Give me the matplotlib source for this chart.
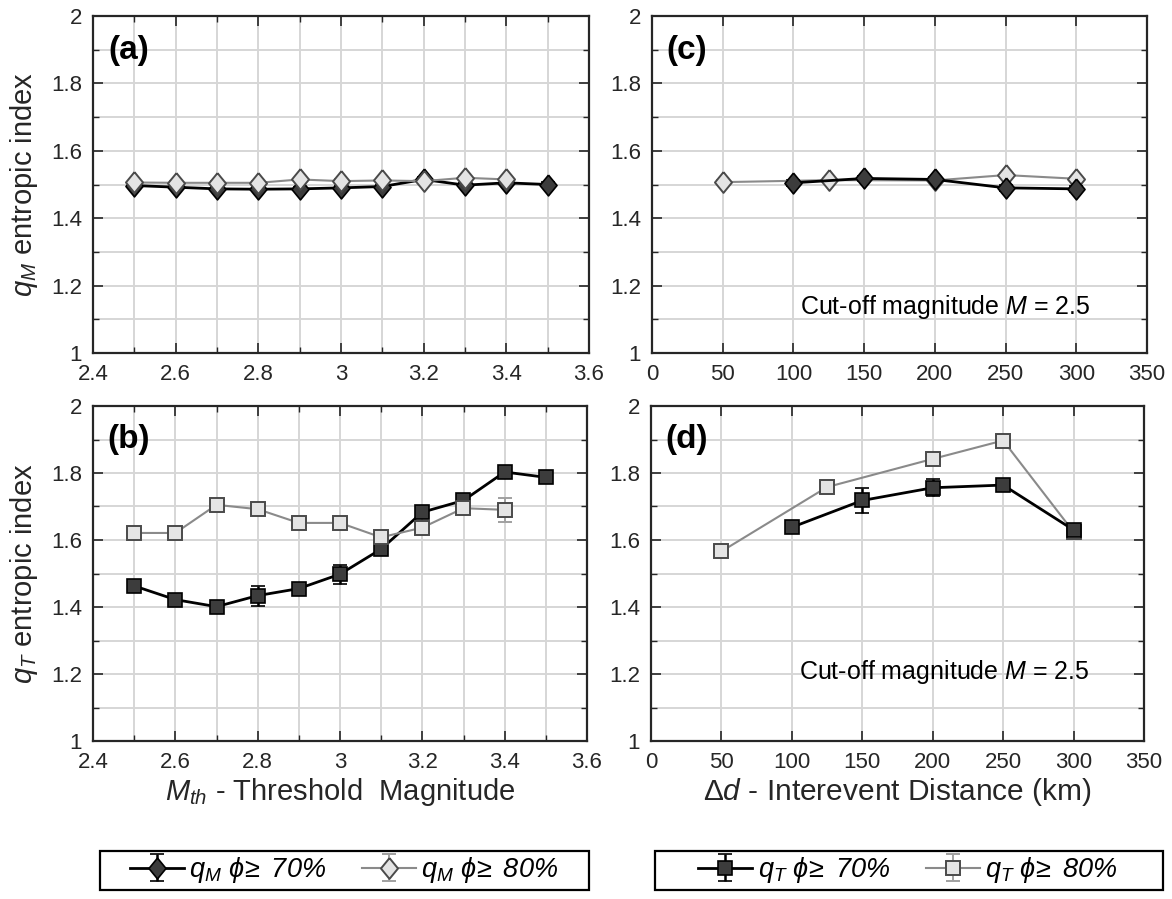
import matplotlib
matplotlib.use('Agg')
import matplotlib.pyplot as plt
from matplotlib.ticker import MultipleLocator
from matplotlib.patches import Rectangle

plt.rcParams['font.family'] = ['Liberation Sans', 'DejaVu Sans']
plt.rcParams['mathtext.fontset'] = 'custom'
plt.rcParams['mathtext.rm'] = 'Liberation Sans'
plt.rcParams['mathtext.it'] = 'Liberation Sans:italic'
plt.rcParams['mathtext.bf'] = 'Liberation Sans:bold'

# data
mth = [2.5, 2.6, 2.7, 2.8, 2.9, 3.0, 3.1, 3.2, 3.3, 3.4, 3.5]
mth80 = [2.5, 2.6, 2.7, 2.8, 2.9, 3.0, 3.1, 3.2, 3.3, 3.4]
qm70 = [1.497, 1.492, 1.487, 1.486, 1.487, 1.490, 1.494, 1.515, 1.498, 1.505, 1.500]
qm70_err = [0.006, 0.006, 0.006, 0.006, 0.006, 0.006, 0.006, 0.008, 0.006, 0.006, 0.006]
qm80 = [1.506, 1.505, 1.505, 1.505, 1.515, 1.510, 1.512, 1.510, 1.520, 1.515]
qm80_err = [0.005] * 10
qt70 = [1.463, 1.422, 1.401, 1.434, 1.455, 1.498, 1.573, 1.683, 1.718, 1.803, 1.787]
qt70_err = [0.010, 0.010, 0.008, 0.030, 0.012, 0.028, 0.012, 0.012, 0.010, 0.008, 0.008]
qt80 = [1.621, 1.621, 1.705, 1.692, 1.651, 1.651, 1.608, 1.637, 1.695, 1.690]
qt80_err = [0.006, 0.006, 0.006, 0.006, 0.006, 0.006, 0.006, 0.006, 0.006, 0.036]

dist70 = [100, 150, 200, 250, 300]
dist80 = [50, 125, 200, 250, 300]
qm70_d = [1.505, 1.518, 1.515, 1.490, 1.487]
qm70_d_err = [0.008, 0.008, 0.008, 0.008, 0.008]
qm80_d = [1.507, 1.513, 1.512, 1.528, 1.517]
qm80_d_err = [0.005] * 5
qt70_d = [1.638, 1.718, 1.756, 1.764, 1.630]
qt70_d_err = [0.015, 0.037, 0.025, 0.010, 0.015]
qt80_d = [1.566, 1.758, 1.842, 1.897, 1.624]
qt80_d_err = [0.008, 0.006, 0.006, 0.006, 0.020]

W, H = 1172, 899
fig = plt.figure(figsize=(W / 100, H / 100), dpi=100)

def rect(l, t, r, b):
    return [l / W, 1 - b / H, (r - l) / W, (b - t) / H]

ax_a = fig.add_axes(rect(93, 16, 589, 353))
ax_c = fig.add_axes(rect(652, 16, 1147, 353))
ax_b = fig.add_axes(rect(93, 406, 587, 741))
ax_d = fig.add_axes(rect(651, 406, 1144, 741))

tc = '#262626'
# matlab style diamond, a bit taller than wide
diamond = [(0, 1), (0.82, 0), (0, -1), (-0.82, 0), (0, 1)]
black_kw = dict(color='black', lw=2, mfc='#3c3c3c', mec='black', mew=1.2,
                ecolor='black', elinewidth=1.8, capsize=5, capthick=1.8)
gray_kw = dict(color='#8a8a8a', lw=1.5, mfc='#e4e4e4', mec='#4a4a4a', mew=1.4,
               ecolor='#a0a0a0', elinewidth=1.4, capsize=5, capthick=1.4)
dms = 15
sms = 9.5

def style(ax, xlim, xmajor, xminor):
    ax.set_xlim(*xlim)
    ax.set_ylim(1, 2)
    ax.xaxis.set_major_locator(MultipleLocator(xmajor))
    ax.xaxis.set_minor_locator(MultipleLocator(xminor))
    ax.yaxis.set_major_locator(MultipleLocator(0.2))
    ax.yaxis.set_minor_locator(MultipleLocator(0.1))
    ax.grid(True, which='both', color='#d6d6d6', lw=1.4)
    ax.set_axisbelow(True)
    ax.tick_params(which='both', direction='in', top=True, right=True,
                   colors=tc, labelsize=16, pad=8)
    ax.tick_params(which='major', length=7, width=1.2)
    ax.tick_params(which='minor', length=4, width=1.0)
    ax.yaxis.set_major_formatter(plt.FuncFormatter(lambda v, p: ('%g' % round(v, 2))))
    ax.xaxis.set_major_formatter(plt.FuncFormatter(lambda v, p: ('%g' % round(v, 2))))
    for s in ax.spines.values():
        s.set_color(tc)
        s.set_linewidth(1.6)

def letter(ax, s):
    ax.text(0.03, 0.945, s, transform=ax.transAxes, fontsize=24,
            fontweight='bold', va='top')

# (a)
h1 = ax_a.errorbar(mth, qm70, yerr=qm70_err, marker=diamond, ms=dms, **black_kw)
h2 = ax_a.errorbar(mth80, qm80, yerr=qm80_err, marker=diamond, ms=dms, **gray_kw)
style(ax_a, (2.4, 3.6), 0.2, 0.1)
ax_a.set_ylabel(r'$q_M$ entropic index', fontsize=21, color=tc, labelpad=8)
letter(ax_a, '(a)')

# (b)
h3 = ax_b.errorbar(mth, qt70, yerr=qt70_err, marker='s', ms=sms, **black_kw)
h4 = ax_b.errorbar(mth80, qt80, yerr=qt80_err, marker='s', ms=sms, **gray_kw)
style(ax_b, (2.4, 3.6), 0.2, 0.1)
ax_b.set_ylabel(r'$q_T$ entropic index', fontsize=21, color=tc, labelpad=8)
ax_b.set_xlabel(r'$M_{th}$ - Threshold  Magnitude', fontsize=21, color=tc, labelpad=2)
letter(ax_b, '(b)')

# (c)
ax_c.errorbar(dist80, qm80_d, yerr=qm80_d_err, marker=diamond, ms=dms, **gray_kw)
ax_c.errorbar(dist70, qm70_d, yerr=qm70_d_err, marker=diamond, ms=dms, **black_kw)
style(ax_c, (0, 350), 50, 50)
letter(ax_c, '(c)')
ax_c.text(0.3, 0.137, r'Cut-off magnitude $M$ = 2.5', transform=ax_c.transAxes,
          fontsize=18, va='center')

# (d)
ax_d.errorbar(dist80, qt80_d, yerr=qt80_d_err, marker='s', ms=sms, **gray_kw)
ax_d.errorbar(dist70, qt70_d, yerr=qt70_d_err, marker='s', ms=sms, **black_kw)
style(ax_d, (0, 350), 50, 50)
ax_d.set_xlabel(r'$\mathit{\Delta d}$ - Interevent Distance (km)', fontsize=21.5,
                color=tc, labelpad=2)
letter(ax_d, '(d)')
ax_d.text(0.3, 0.205, r'Cut-off magnitude $M$ = 2.5', transform=ax_d.transAxes,
          fontsize=18, va='center')

# legends below the panels, boxes drawn by hand
leg_kw = dict(loc='center', ncol=2, frameon=False, handlelength=2.0,
              handletextpad=0.2, columnspacing=1.3,
              prop={'size': 19.5, 'style': 'italic'})
l1 = fig.legend([h1, h2], [r'$q_M$ $\phi\!\geq$ 70%', r'$q_M$ $\phi\!\geq$ 80%'],
                bbox_to_anchor=(344 / W, 1 - 870 / H), **leg_kw)
l2 = fig.legend([h3, h4], [r'$q_T$ $\phi\!\geq$ 70%', r'$q_T$ $\phi\!\geq$ 80%'],
                bbox_to_anchor=(908 / W, 1 - 870 / H), **leg_kw)
for x0, x1 in [(100, 589), (655, 1163)]:
    fig.patches.append(Rectangle((x0 / W, 1 - 890 / H), (x1 - x0) / W, 39 / H,
                                 transform=fig.transFigure, fill=False,
                                 edgecolor='black', lw=1.6))

fig.savefig('out.png', dpi=100)
